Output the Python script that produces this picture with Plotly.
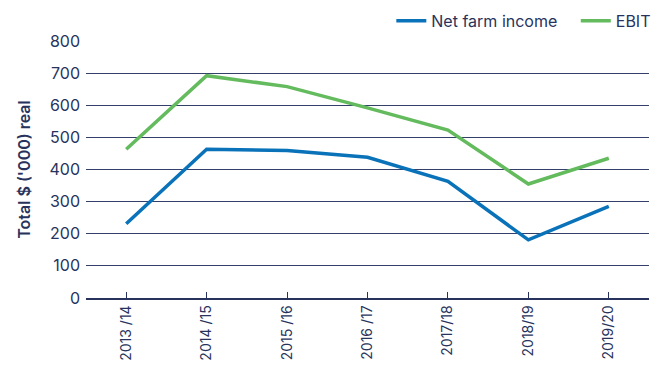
import plotly.graph_objects as go

# Financial years on the category axis
years = ["2013 /14", "2014 /15", "2015 /16", "2016 /17", "2017/18", "2018/19", "2019/20"]

# Totals in $'000 (real terms)
net_farm_income = [231, 463, 459, 438, 363, 181, 285]
ebit = [463, 692, 658, 592, 523, 355, 435]

y_ticks = [0, 100, 200, 300, 400, 500, 600, 700, 800]

NAVY = "#27335c"
FONT = "Inter"

fig = go.Figure()
fig.add_trace(go.Scatter(
    x=years, y=net_farm_income, name="Net farm income\u00a0\u00a0\u00a0", mode="lines",
    line=dict(color="#0a72b9", width=3.5),
))
fig.add_trace(go.Scatter(
    x=years, y=ebit, name="EBIT", mode="lines",
    line=dict(color="#63bb5d", width=3.5),
))

fig.update_layout(
    width=657, height=370,
    margin=dict(l=86, r=8, t=41, b=72, autoexpand=False),
    paper_bgcolor="white", plot_bgcolor="white",
    font=dict(family=FONT, color=NAVY),
    showlegend=True,
    legend=dict(
        orientation="h", x=1.013, xanchor="right", y=1.078, yanchor="middle",
        font=dict(size=16, color=NAVY, family=FONT),
        itemwidth=30, tracegroupgap=0, bgcolor="rgba(0,0,0,0)",
    ),
    xaxis=dict(
        type="category", tickangle=-90, range=[-0.5, 6.5],
        tickfont=dict(size=14, color=NAVY, family=FONT),
        showgrid=False, showline=True, linecolor=NAVY, linewidth=1.5,
        ticks="inside", ticklen=6, tickcolor=NAVY, tickwidth=1,
        zeroline=False,
    ),
    yaxis=dict(
        range=[0, 800], tickvals=y_ticks,
        tickfont=dict(size=16, color=NAVY, family=FONT),
        showgrid=True, gridcolor="#34406a", gridwidth=1,
        zeroline=False, showline=False,
        ticklabelstandoff=5,
        title=dict(text="Total $ ('000) real",
                   font=dict(size=16, color=NAVY, family=FONT, weight=600),
                   standoff=14),
    ),
)

fig.write_html("out.html")
